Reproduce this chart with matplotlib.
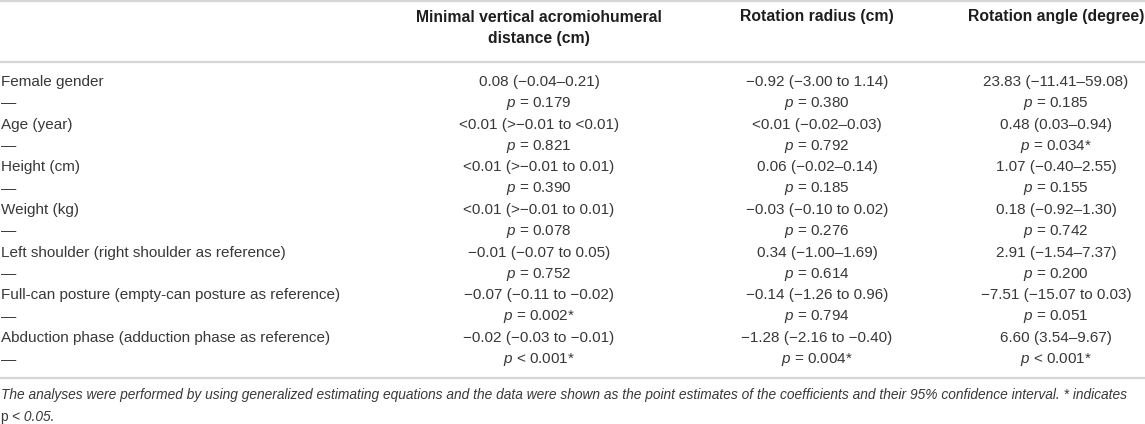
import matplotlib
matplotlib.use("Agg")
import matplotlib.pyplot as plt
from matplotlib.lines import Line2D

plt.rcParams['font.family'] = ['Liberation Sans', 'DejaVu Sans']
plt.rcParams['mathtext.fontset'] = 'custom'
plt.rcParams['mathtext.rm'] = 'Liberation Sans'
plt.rcParams['mathtext.it'] = 'Liberation Sans:italic'
plt.rcParams['mathtext.bf'] = 'Liberation Sans:bold'

# ---- data ----
col_headers = ["Minimal vertical acromiohumeral\ndistance (cm)",
               "Rotation radius (cm)",
               "Rotation angle (degree)"]
variables = ["Female gender", "Age (year)", "Height (cm)", "Weight (kg)",
             "Left shoulder (right shoulder as reference)",
             "Full-can posture (empty-can posture as reference)",
             "Abduction phase (adduction phase as reference)"]
acromio_est = ["0.08 (\u22120.04\u20130.21)", "<0.01 (>\u22120.01 to <0.01)",
               "<0.01 (>\u22120.01 to 0.01)", "<0.01 (>\u22120.01 to 0.01)",
               "\u22120.01 (\u22120.07 to 0.05)", "\u22120.07 (\u22120.11 to \u22120.02)",
               "\u22120.02 (\u22120.03 to \u22120.01)"]
acromio_p = ["= 0.179", "= 0.821", "= 0.390", "= 0.078", "= 0.752", "= 0.002*", "< 0.001*"]
radius_est = ["\u22120.92 (\u22123.00 to 1.14)", "<0.01 (\u22120.02\u20130.03)",
              "0.06 (\u22120.02\u20130.14)", "\u22120.03 (\u22120.10 to 0.02)",
              "0.34 (\u22121.00\u20131.69)", "\u22120.14 (\u22121.26 to 0.96)",
              "\u22121.28 (\u22122.16 to \u22120.40)"]
radius_p = ["= 0.380", "= 0.792", "= 0.185", "= 0.276", "= 0.614", "= 0.794", "= 0.004*"]
angle_est = ["23.83 (\u221211.41\u201359.08)", "0.48 (0.03\u20130.94)",
             "1.07 (\u22120.40\u20132.55)", "0.18 (\u22120.92\u20131.30)",
             "2.91 (\u22121.54\u20137.37)", "\u22127.51 (\u221215.07 to 0.03)",
             "6.60 (3.54\u20139.67)"]
angle_p = ["= 0.185", "= 0.034*", "= 0.155", "= 0.742", "= 0.200", "= 0.051", "< 0.001*"]
footnote_1 = ("The analyses were performed by using generalized estimating equations and the data "
              "were shown as the point estimates of the coefficients and their 95% confidence interval. * indicates")
footnote_2a = "p "
footnote_2b = "< 0.05."

# ---- layout ----
W, H = 1145, 424
fig = plt.figure(figsize=(W / 100, H / 100), dpi=100)

def fy(y):
    return 1 - y / H

def fx(x):
    return x / W

txt_col = "#383838"
hdr_col = "#1e1e1e"
line_col = "#d6d6d6"
fs = 11.0
hfs = 11.3

col_x = [539, 817, 1056]
label_x = 1
row0, step = 82, 21.35

def hline(y):
    fig.add_artist(Line2D([0, 1], [fy(y), fy(y)], transform=fig.transFigure,
                          color=line_col, lw=1.6))

hline(1.2)
hline(61.5)
hline(378)

# headers
for cx, h in zip(col_x, col_headers):
    lines = h.split("\n")
    for k, ln in enumerate(lines):
        fig.text(fx(cx), fy(17 + 21 * k), ln, ha='center', va='center', fontsize=hfs,
                 fontweight='bold', color=hdr_col)

columns = [(acromio_est, acromio_p), (radius_est, radius_p), (angle_est, angle_p)]
for i, var in enumerate(variables):
    y1 = row0 + (2 * i) * step
    y2 = row0 + (2 * i + 1) * step
    fig.text(fx(label_x), fy(y1), var, ha='left', va='center', fontsize=fs, color=txt_col)
    fig.text(fx(label_x), fy(y2), "\u2014", ha='left', va='center', fontsize=fs, color=txt_col)
    for cx, (ests, ps) in zip(col_x, columns):
        fig.text(fx(cx), fy(y1), ests[i], ha='center', va='center', fontsize=fs, color=txt_col)
        fig.text(fx(cx), fy(y2), r"$\mathit{p}$ " + ps[i], ha='center', va='center',
                 fontsize=fs, color=txt_col)

ffs = 9.9
fig.text(fx(label_x), fy(395), footnote_1, ha='left', va='center', fontsize=ffs,
         style='italic', color=txt_col)
t2a = fig.text(fx(label_x), fy(417), footnote_2a, ha='left', va='center', fontsize=ffs,
               color=txt_col)
fig.canvas.draw()
bb = t2a.get_window_extent(renderer=fig.canvas.get_renderer())
fig.text(bb.x1 / W, fy(417), footnote_2b, ha='left', va='center', fontsize=ffs,
         style='italic', color=txt_col)

fig.savefig("out.png", dpi=100, facecolor="white")
